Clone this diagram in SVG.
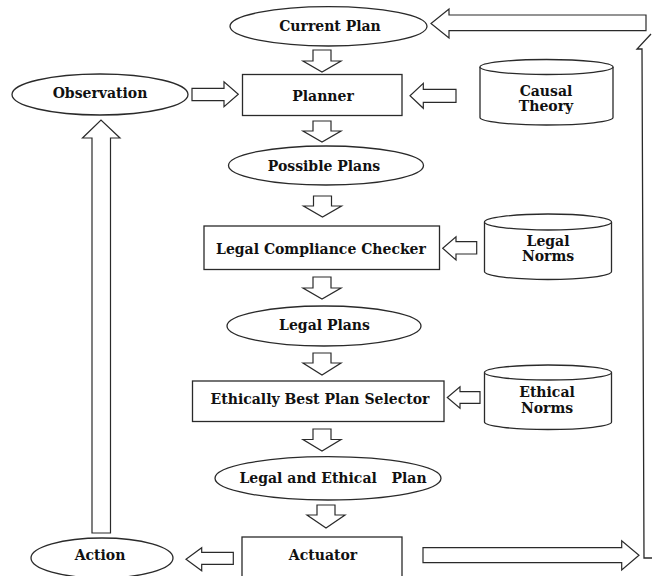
<svg xmlns="http://www.w3.org/2000/svg" width="652" height="576" viewBox="0 0 652 576">
<style>
.s{fill:#fff;stroke:#2a2a2a;stroke-width:1.3}
.c{fill:#fff;stroke:#2a2a2a;stroke-width:1.2;stroke-linejoin:miter}
.l{fill:none;stroke:#2a2a2a;stroke-width:1.3}
.t{font-family:"DejaVu Serif",serif;font-weight:bold;font-size:14px;fill:#111;text-anchor:middle}
</style>
<rect width="652" height="576" fill="#fff"/>
<g id="connectors">
<polygon class="c" points="646,15 449,15 449,9 431,23.5 449,38 449,30.7 646,30.7"/>
<path class="l" d="M652,558 H644 L642,49 H637 L651,34"/>
<polygon class="c" points="313,50 331,50 331,61 341,61 322,72 303,61 313,61"/>
<polygon class="c" points="313,121 331,121 331,131 341,131 322,142 303,131 313,131"/>
<polygon class="c" points="313.5,196 331.5,196 331.5,206 341.5,206 322.5,217 303.5,206 313.5,206"/>
<polygon class="c" points="313,277 331,277 331,288 341,288 322,299 303,288 313,288"/>
<polygon class="c" points="313,353 331,353 331,363 341,363 322,375 303,363 313,363"/>
<polygon class="c" points="313,429 331,429 331,439.5 341,439.5 322,451 303,439.5 313,439.5"/>
<polygon class="c" points="317,505 335,505 335,515 345,515 326,528 307,515 317,515"/>
<polygon class="c" points="92,533 110.5,533 110.5,138 120,138 101,120 82.5,138 92,138"/>
<polygon class="c" points="192,88.3 224,88.3 224,81.7 238.3,94.2 224,106.7 224,100.7 192,100.7"/>
<polygon class="c" points="456,89.3 423.3,89.3 423.3,83.3 410,95.8 423.3,108.3 423.3,102.3 456,102.3"/>
<polygon class="c" points="476.7,241.7 456,241.7 456,236.7 442.7,248.3 456,260 456,254 476.7,254"/>
<polygon class="c" points="480,391.7 460,391.7 460,386.7 447.3,397.5 460,408.3 460,403.3 480,403.3"/>
<polygon class="c" points="233.3,552.3 201.7,552.3 201.7,547.7 186,559.2 201.7,570.7 201.7,564.3 233.3,564.3"/>
<polygon class="c" points="423,547.7 621.7,547.7 621.7,540.7 639,555.3 621.7,570 621.7,562.7 423,562.7"/>
</g>
<g id="current-plan">
<ellipse class="s" cx="328.5" cy="26.3" rx="98.5" ry="19.7"/>
<text class="t" x="330" y="30.5">Current Plan</text>
</g>
<g id="observation">
<ellipse class="s" cx="100" cy="94.5" rx="88" ry="20.5"/>
<text class="t" x="100" y="98">Observation</text>
</g>
<g id="planner">
<rect class="s" x="242.5" y="74.5" width="159.5" height="41"/>
<text class="t" x="323" y="101">Planner</text>
</g>
<g id="causal-theory">
<path class="s" d="M480,67 V117.5 A66.5,7.5 0 0 0 613,117.5 V67"/>
<ellipse class="s" cx="546.5" cy="67" rx="66.5" ry="7.5"/>
<text class="t" x="546" y="96">Causal</text>
<text class="t" x="546" y="110.5">Theory</text>
</g>
<g id="possible-plans">
<ellipse class="s" cx="326" cy="165.5" rx="97.5" ry="19.5"/>
<text class="t" x="324" y="170.5">Possible Plans</text>
</g>
<g id="legal-compliance-checker">
<rect class="s" x="204" y="226" width="235.5" height="43.5"/>
<text class="t" x="321" y="253.5">Legal Compliance Checker</text>
</g>
<g id="legal-norms">
<path class="s" d="M484.5,222 V271.5 A63.5,8 0 0 0 611.5,271.5 V222"/>
<ellipse class="s" cx="548" cy="222" rx="63.5" ry="8"/>
<text class="t" x="548" y="246">Legal</text>
<text class="t" x="548" y="260.5">Norms</text>
</g>
<g id="legal-plans">
<ellipse class="s" cx="324" cy="326" rx="97" ry="20"/>
<text class="t" x="324.5" y="330">Legal Plans</text>
</g>
<g id="ethically-best-plan-selector">
<rect class="s" x="192.5" y="381" width="251.5" height="40.5"/>
<text class="t" x="320" y="404">Ethically Best Plan Selector</text>
</g>
<g id="ethical-norms">
<path class="s" d="M484.5,372.5 V422 A63.5,7.5 0 0 0 611.5,422 V372.5"/>
<ellipse class="s" cx="548" cy="372.5" rx="63.5" ry="7.5"/>
<text class="t" x="547" y="397">Ethical</text>
<text class="t" x="547" y="412.5">Norms</text>
</g>
<g id="legal-and-ethical-plan">
<ellipse class="s" cx="328" cy="478.3" rx="113" ry="21.7"/>
<text class="t" x="239.5" y="483.3" style="text-anchor:start">Legal and Ethical<tspan x="391.5">Plan</tspan></text>
</g>
<g id="action">
<ellipse class="s" cx="102" cy="558" rx="71" ry="20"/>
<text class="t" x="100" y="559.5">Action</text>
</g>
<g id="actuator">
<rect class="s" x="242" y="537" width="160" height="45"/>
<text class="t" x="323" y="560">Actuator</text>
</g>
</svg>
